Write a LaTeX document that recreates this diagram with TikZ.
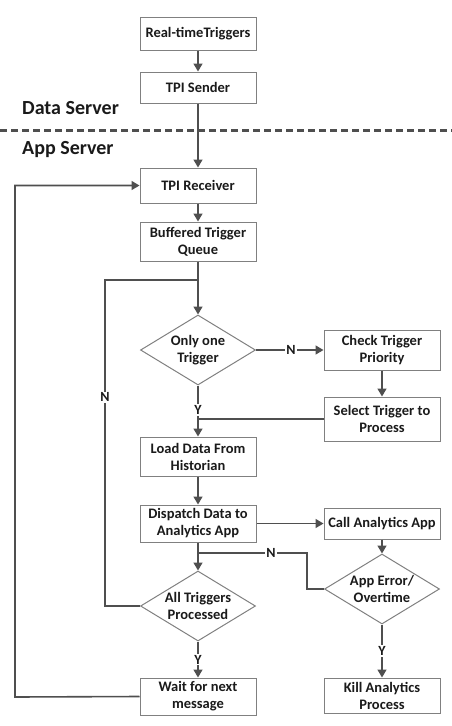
\documentclass[tikz,border=0pt]{standalone}
\usepackage{fontspec}
\setmainfont{Carlito}
\usetikzlibrary{shapes.geometric,arrows.meta}
\definecolor{bordercol}{HTML}{808080}
\definecolor{linecol}{HTML}{4F4F4F}
\definecolor{txtcol}{HTML}{1A1A1A}
\begin{document}
\begin{tikzpicture}[x=1pt,y=-1pt,
  box/.style={draw=bordercol,line width=1pt,fill=white,minimum width=116pt,inner sep=0pt,align=center,text=txtcol,font=\fontsize{14.5}{17}\selectfont\bfseries},
  dia/.style={draw=bordercol,line width=1pt,fill=white,shape=diamond,minimum width=115pt,minimum height=70pt,inner sep=0pt},
  diatext/.style={align=center,inner sep=0pt,text=txtcol,font=\fontsize{14.5}{17}\selectfont\bfseries},
  conn/.style={draw=linecol,line width=1.6pt},
  arr/.style={conn,-{Triangle[length=8pt,width=9pt]}},
  yn/.style={fill=white,inner sep=1pt,text=txtcol,font=\fontsize{14}{16}\selectfont\bfseries},
  side/.style={anchor=west,inner sep=0pt,text=txtcol,font=\fontsize{20}{22}\selectfont\bfseries}]
\useasboundingbox (0,0) rectangle (452,726);

% dashed separator
\draw[linecol,line width=3pt,dash pattern=on 7pt off 4pt] (0,130) -- (452,130);
\node[side] (ds) at (22,108) {Data Server};
\node[side] (as) at (22,150) {App Server};

% main column boxes
\node[box,minimum height=33pt] (rt) at (198,33.5) {Real-timeTriggers};
\node[box,minimum height=31pt] (snd) at (198,87.5) {TPI Sender};
\node[box,minimum height=35pt] (rcv) at (198,185.5) {TPI Receiver};
\node[box,minimum height=39pt] (buf) at (198,241.5) {Buffered Trigger\\Queue};
\node[dia] (d1) at (198,350) {};
\node[diatext] (d1t) at (198,350) {Only one\\Trigger};
\node[box,minimum height=39pt] (load) at (198,456.5) {Load Data From\\Historian};
\node[box,minimum height=37pt] (disp) at (198,523.5) {Dispatch Data to\\Analytics App};
\node[dia] (d2) at (198,606) {};
\node[diatext] (d2t) at (198,606) {All Triggers\\Processed};
\node[box,minimum height=37pt] (wait) at (198,696.5) {Wait for next\\message};

% right column
\node[box,minimum height=40pt] (chk) at (382,350) {Check Trigger\\Priority};
\node[box,minimum height=44pt] (sel) at (382,419) {Select Trigger to\\Process};
\node[box,minimum height=31pt] (call) at (382,523.5) {Call Analytics App};
\node[dia] (d3) at (382,589) {};
\node[diatext] (d3t) at (382,589) {App Error/\\Overtime};
\node[box,minimum height=35pt] (kill) at (382,695.5) {Kill Analytics\\Process};

% junction coordinates
\coordinate (jq) at (198,280);
\coordinate (jd) at (198,553);
\coordinate (jloopL) at (105,280);
\coordinate (jloopB) at (105,606);
\coordinate (jerr) at (307,589);
\coordinate (jerrT) at (307,553);
\coordinate (jwait) at (15,697);

% connectors
\draw[arr] (rt) -- (snd);
\draw[arr] (snd) -- (rcv);
\draw[arr] (rcv) -- (buf);
\draw[arr] (buf) -- (d1.north);
\draw[arr] (d1.east) -- node[yn,pos=0.52] (n1) {N} (chk.west);
\draw[arr] (chk) -- (sel);
\draw[arr] (d1.south) -- node[yn,pos=0.48] (y1) {Y} (load.north);
\draw[conn] (sel.west) -- (sel.west -| load.north);
\draw[arr] (load) -- (disp);
\draw[arr] (disp.east) -- (call.west);
\draw[arr] (call) -- (d3.north);
\draw[arr] (d3.south) -- node[yn,pos=0.5] (y3) {Y} (kill.north);
\draw[arr] (disp.south) -- (d2.north);
\draw[conn] (d3.west) -- (jerr) -- (jerrT) -- node[yn,pos=0.33] (n3) {N} (jd);
\draw[conn] (d2.west) -- (jloopB) -- node[yn,pos=0.64] (n2) {N} (jloopL) -- (jq);
\draw[arr] (d2.south) -- node[yn,pos=0.5] (y2) {Y} (wait.north);
\draw[arr] (wait.west) -- (jwait) |- (rcv.west);
\end{tikzpicture}
\end{document}
